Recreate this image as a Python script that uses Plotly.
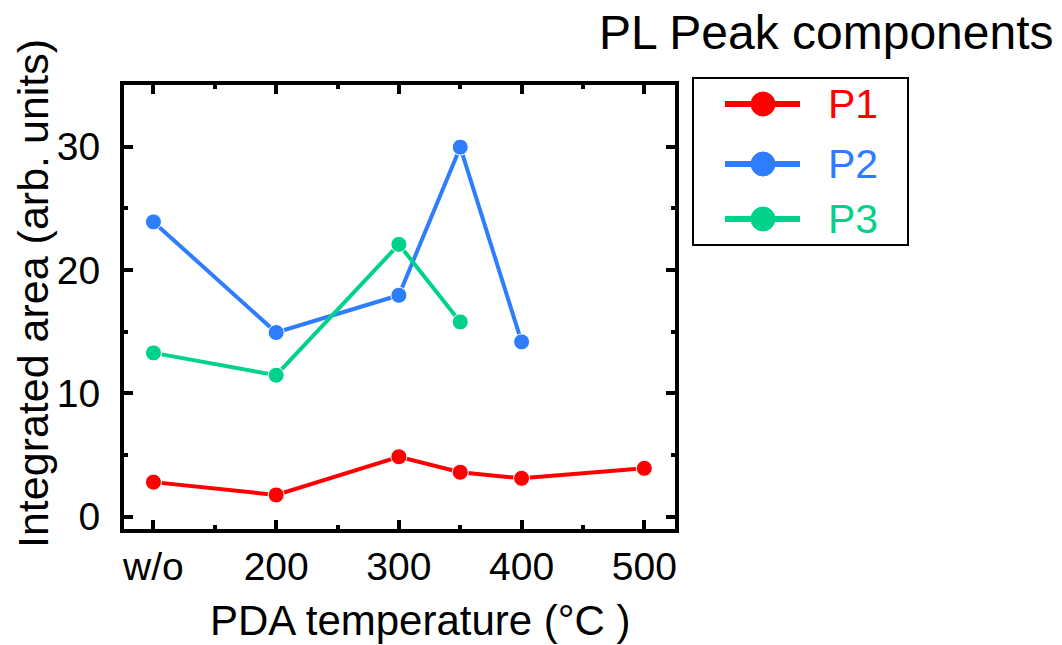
import plotly.graph_objects as go

# data
x_p1 = [100, 200, 300, 350, 400, 500]
y_p1 = [2.8, 1.76, 4.86, 3.6, 3.11, 3.92]
x_p2 = [100, 200, 300, 350, 400]
y_p2 = [23.9, 14.93, 17.95, 29.96, 14.17]
x_p3 = [100, 200, 300, 350]
y_p3 = [13.28, 11.47, 22.08, 15.79]
series_names = ["P1", "P2", "P3"]
tick_vals = [100, 200, 300, 400, 500]
tick_text = ["w/o", "200", "300", "400", "500"]

RED = "#ff0000"
BLUE = "#2f7dff"
GREEN = "#00d28a"
colors = [RED, BLUE, GREEN]
FONT = "Liberation Sans, Arial, sans-serif"

fig = go.Figure()
for xs, ys, col, nm in zip([x_p1, x_p2, x_p3], [y_p1, y_p2, y_p3], colors, series_names):
    fig.add_trace(go.Scatter(
        x=xs, y=ys, mode="lines+markers", name=nm, showlegend=False,
        line=dict(color=col, width=4),
        marker=dict(color=col, size=16, line=dict(color="white", width=1)),
    ))

L, R, T, B = 124, 387, 85, 116
W, H = 1062, 645
pw = W - L - R
ph = H - T - B

def px(xp):
    return (xp - L) / pw

def py(yp):
    return (H - B - yp) / ph

axis_common = dict(
    showline=True, linecolor="black", linewidth=4, mirror="allticks",
    ticks="inside", ticklen=9, tickwidth=4, tickcolor="black",
    showgrid=False, zeroline=False,
    tickfont=dict(family=FONT, size=39, color="black"),
)

fig.update_xaxes(range=[76, 525], tickvals=tick_vals, ticktext=tick_text,
                 minor=dict(dtick=50, tick0=0, ticks="inside", ticklen=4, tickwidth=4, tickcolor="black"),
                 ticklabelstandoff=0, **axis_common)
fig.update_yaxes(range=[-1, 35], tickvals=[0, 10, 20, 30],
                 minor=dict(dtick=5, tick0=0, ticks="inside", ticklen=4, tickwidth=4, tickcolor="black"),
                 ticklabelstandoff=12, **axis_common)

shapes = [dict(type="rect", xref="paper", yref="paper",
               x0=px(693), x1=px(908), y0=py(245), y1=py(78),
               line=dict(color="black", width=2), fillcolor="white", layer="above")]
annotations = [
    dict(text="PL Peak components", xref="paper", yref="paper",
         x=px(1056), y=py(32), xanchor="right", yanchor="middle",
         showarrow=False, font=dict(family=FONT, size=48, color="black")),
    dict(text="Integrated area (arb. units)", xref="paper", yref="paper",
         x=px(33), y=py(294), xanchor="center", yanchor="middle", textangle=-90,
         showarrow=False, font=dict(family=FONT, size=43, color="black")),
    dict(text="PDA temperature (°C )", xref="paper", yref="paper",
         x=px(420), y=py(620), xanchor="center", yanchor="middle",
         showarrow=False, font=dict(family=FONT, size=42, color="black")),
]
legend_rows = [104, 164, 219]
for nm, col, ry in zip(series_names, colors, legend_rows):
    shapes.append(dict(type="line", xref="paper", yref="paper",
                       x0=px(725), x1=px(800), y0=py(ry), y1=py(ry),
                       line=dict(color=col, width=6), layer="above"))
    shapes.append(dict(type="circle", xref="paper", yref="paper",
                       xsizemode="pixel", ysizemode="pixel",
                       xanchor=px(763), yanchor=py(ry),
                       x0=-12, x1=12, y0=-12, y1=12,
                       line=dict(color=col, width=1), fillcolor=col, layer="above"))
    annotations.append(dict(text=nm, xref="paper", yref="paper",
                            x=px(826), y=py(ry), xanchor="left", yanchor="middle",
                            showarrow=False, font=dict(family=FONT, size=41, color=col)))

fig.update_layout(
    width=W, height=H,
    margin=dict(l=L, r=R, t=T, b=B),
    plot_bgcolor="white", paper_bgcolor="white",
    font=dict(family=FONT, color="black"),
    showlegend=False,
    shapes=shapes,
    annotations=annotations,
)

fig.write_html("out.html")
